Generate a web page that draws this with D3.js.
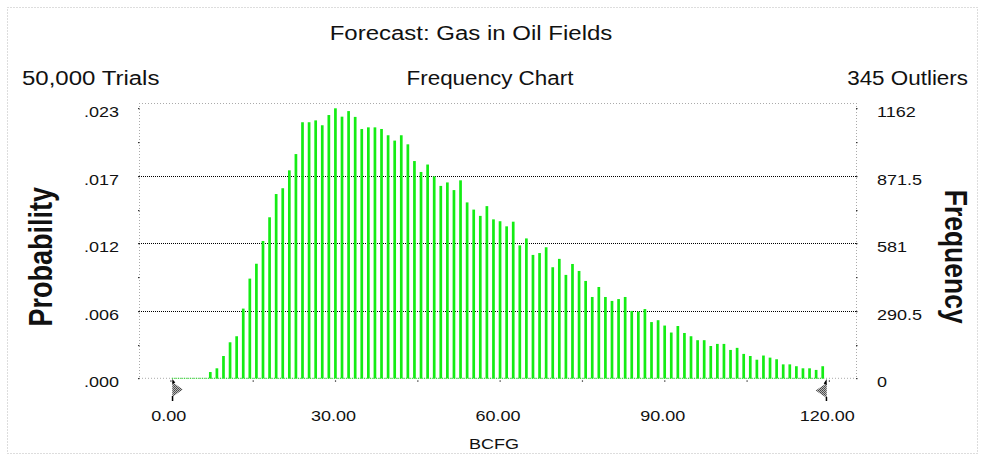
<!DOCTYPE html>
<html><head><meta charset="utf-8">
<script src="https://cdn.jsdelivr.net/npm/d3@7/dist/d3.min.js"></script>
<style>
body{margin:0;background:#fff}
svg{display:block}
text{font-family:"Liberation Sans",Arial,sans-serif;fill:#111}
</style>
</head><body>
<svg id="c" width="984" height="461"></svg>
<script>
// ---- data ----
const binWidth = 1.2;            // BCFG per bin (100 bins, 0..120)
const frequencies = [
  0,0,0,0,0,0,27,43,96,155,
  181,300,429,493,591,693,793,818,895,965,
  1102,1102,1110,1089,1133,1162,1126,1150,1125,1073,
  1080,1080,1073,1046,1023,1046,1007,935,888,920,
  869,828,843,810,852,757,726,699,741,684,
  676,654,674,572,602,531,539,564,478,514,
  445,492,462,419,350,393,350,333,341,350,
  290,287,298,242,250,227,197,225,195,181,
  164,164,139,148,148,122,131,105,96,80,
  98,89,82,60,60,52,43,43,36,52
];
const freqTicks = [0, 290.5, 581, 871.5, 1162];
const freqLabels = ["0", "290.5", "581", "871.5", "1162"];
const probLabels = [".000", ".006", ".012", ".017", ".023"];
const xTicks = [0, 30, 60, 90, 120];
const xLabels = ["0.00", "30.00", "60.00", "90.00", "120.00"];
const xMinorTicks = [15, 45, 75, 105];
const title = "Forecast: Gas in Oil Fields";
const trialsText = "50,000 Trials";
const chartText = "Frequency Chart";
const outliersText = "345 Outliers";

// ---- drawing ----
const svg = d3.select("#c");
const defs = svg.append("defs");
const pat = defs.append("pattern").attr("id","chk").attr("width",2).attr("height",2)
  .attr("patternUnits","userSpaceOnUse");
pat.append("rect").attr("width",2).attr("height",2).attr("fill","#bbb");
pat.append("rect").attr("width",1).attr("height",1).attr("fill","#444");
pat.append("rect").attr("x",1).attr("y",1).attr("width",1).attr("height",1).attr("fill","#555");

const frame = {left:139, right:856, top:103, bottom:378.3};
const x = d3.scaleLinear().domain([0, 120]).range([170.8, 829.3]);
const y = d3.scaleLinear().domain([0, 1162]).range([378.3, 108.3]);

// outer dotted border
svg.append("rect").attr("x",7.5).attr("y",7.5).attr("width",970).attr("height",446)
  .attr("fill","none").attr("stroke","#bbb").attr("stroke-dasharray","1,2");

// plot frame (light dotted)
const fr = svg.append("g").attr("stroke","#aaa").attr("stroke-dasharray","1,2").attr("fill","none");
fr.append("line").attr("x1",frame.left+.5).attr("x2",frame.left+.5).attr("y1",frame.top).attr("y2",frame.bottom);
fr.append("line").attr("x1",frame.right+.5).attr("x2",frame.right+.5).attr("y1",frame.top).attr("y2",frame.bottom);
fr.append("line").attr("x1",frame.left).attr("x2",frame.right).attr("y1",frame.top+.5).attr("y2",frame.top+.5);
fr.append("line").attr("x1",frame.left).attr("x2",frame.right).attr("y1",frame.bottom).attr("y2",frame.bottom);

// grid lines
svg.append("g").selectAll("line").data(freqTicks.slice(1, -1)).join("line")
  .attr("x1",frame.left).attr("x2",frame.right)
  .attr("y1",d=>Math.round(y(d))+.5).attr("y2",d=>Math.round(y(d))+.5)
  .attr("stroke","#000").attr("stroke-dasharray","1,1");

// green baseline
svg.append("line").attr("x1",x(0)+1).attr("x2",x(99*binWidth)+1.5)
  .attr("y1",frame.bottom).attr("y2",frame.bottom)
  .attr("stroke","#11dd11").attr("stroke-dasharray","1,1");

// bars
svg.append("g").selectAll("rect").data(frequencies.map((f,i)=>({f,i})).filter(d=>d.f>0)).join("rect")
  .attr("x",d=>x(d.i*binWidth)-1.35).attr("width",2.7)
  .attr("y",d=>y(d.f)).attr("height",d=>y(0)-y(d.f))
  .attr("fill","#14ec14");

// axis tick dots (left/right)
const halfTicks = d3.range(0, 9).map(k => k*1162/8);
["left","right"].forEach(side=>{
  svg.append("g").selectAll("rect").data(halfTicks).join("rect")
    .attr("x", side==="left" ? frame.left-1 : frame.right)
    .attr("y", d=>Math.round(y(d))).attr("width",1.5).attr("height",1.2)
    .attr("fill","#333");
});
// x tick dots
svg.append("g").selectAll("rect").data(xTicks.concat(xMinorTicks)).join("rect")
  .attr("x", d=>x(d)-.5).attr("y", frame.bottom+2).attr("width",1.2).attr("height",1.5)
  .attr("fill","#444");

// axes (labels only)
const axL = svg.append("g").attr("transform",`translate(${frame.left},0)`)
  .call(d3.axisLeft(y).tickValues(freqTicks).tickFormat((d,i)=>probLabels[i]).tickSize(0).tickPadding(20));
const axR = svg.append("g").attr("transform",`translate(${frame.right},0)`)
  .call(d3.axisRight(y).tickValues(freqTicks).tickFormat((d,i)=>freqLabels[i]).tickSize(0).tickPadding(21));
const axB = svg.append("g").attr("transform",`translate(0,${frame.bottom})`)
  .call(d3.axisBottom(x).tickValues(xTicks).tickFormat((d,i)=>xLabels[i]).tickSize(0).tickPadding(32));
[axL, axR, axB].forEach(a=>{
  a.select(".domain").remove();
  a.selectAll("text").attr("font-size",15).attr("font-family",'"Liberation Sans",Arial,sans-serif').attr("fill","#111").attr("class","hs");
});
axL.selectAll("text").attr("dy","0.56em");
axR.selectAll("text").attr("dy","0.56em");
axB.selectAll("text").attr("x",-2.5);

// X axis title
svg.append("text").attr("class","hs").attr("x",494).attr("y",448.5).attr("text-anchor","middle")
  .attr("font-size",15).text("BCFG");

// headers
svg.append("text").attr("class","hs").attr("x",471).attr("y",39.5).attr("text-anchor","middle")
  .attr("font-size",20).text(title);
svg.append("text").attr("class","hs").attr("x",22).attr("y",84.5).attr("text-anchor","start")
  .attr("font-size",20).text(trialsText);
svg.append("text").attr("class","hs1").attr("x",490).attr("y",84.5).attr("text-anchor","middle")
  .attr("font-size",20).text(chartText);
svg.append("text").attr("class","hs1").attr("x",968).attr("y",84.5).attr("text-anchor","end")
  .attr("font-size",20).text(outliersText);

// rotated axis titles
svg.append("text").attr("transform","translate(51.7,256.7) scale(1.2,1) rotate(-90)")
  .attr("text-anchor","middle").attr("font-weight","bold").attr("font-size",27).text("Probability");
svg.append("text").attr("transform","translate(945,256.7) scale(1.2,1) rotate(90)")
  .attr("text-anchor","middle").attr("font-weight","bold").attr("font-size",26.5).text("Frequency");

// range grabbers (arrows)
const ax0 = x(0)+1.5, ax1 = x(120)-2.6;
svg.append("path").attr("d",`M${ax0},382 L${ax0+10.5},389.5 L${ax0},397 Z`).attr("fill","url(#chk)");
svg.append("path").attr("d",`M${ax0},379 L${ax0+3},382.5 L${ax0},384 Z M${ax0-.5},396 h1.5 v5 h-1.5 Z`).attr("fill","#000");
svg.append("path").attr("d",`M${ax1},383 L${ax1-11},390.5 L${ax1},398 Z`).attr("fill","url(#chk)");
svg.append("path").attr("d",`M${ax1},379 L${ax1-3},383.5 L${ax1},385 Z M${ax1-1},397 h1.5 v4 h-1.5 Z`).attr("fill","#000");

// horizontal stretch of horizontal texts (reference is stretched ~1.2x)
svg.selectAll("text.hs").each(function(){
  const w = this.getComputedTextLength();
  d3.select(this).attr("textLength", w*1.2).attr("lengthAdjust","spacingAndGlyphs");
});
svg.selectAll("text.hs1").each(function(){
  const w = this.getComputedTextLength();
  d3.select(this).attr("textLength", w*1.12).attr("lengthAdjust","spacingAndGlyphs");
});
</script>
</body></html>
